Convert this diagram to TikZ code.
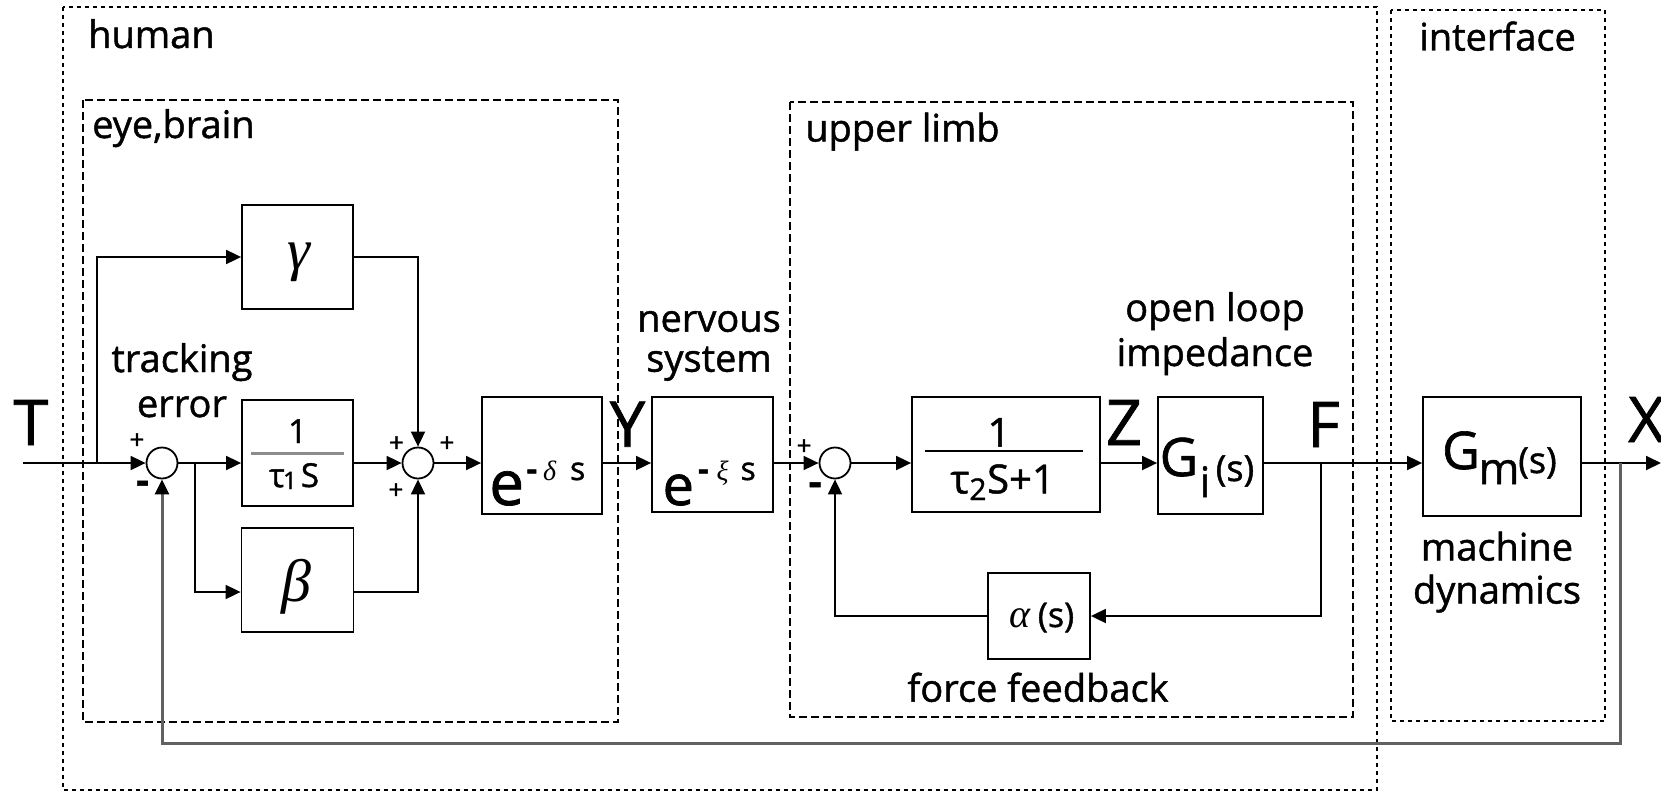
\documentclass[tikz,border=0pt]{standalone}
\usepackage{fontspec}
\setmainfont{Open Sans}[FakeBold=1.2]
\newfontfamily\grk{Liberation Serif}
\usetikzlibrary{arrows.meta,calc}
\newcommand{\myfs}[1]{\fontsize{#1}{#1}\selectfont}
\newcommand{\gk}[1]{{\grk\itshape #1}}
\begin{document}
\begin{tikzpicture}[x=1pt,y=-1pt,
  blk/.style={draw, line width=1.8pt, inner sep=0pt},
  sumj/.style={draw, circle, line width=1.8pt, inner sep=0pt, minimum size=31pt},
  arr/.style={-{Triangle[length=15pt,width=14pt]}, line width=1.8pt},
  fbk/.style={-{Triangle[length=15pt,width=14pt,color=black]}, line width=3pt, draw=black!62},
  humanbox/.style={line width=2.4pt, dash pattern=on 4pt off 4pt},
  subbox/.style={line width=1.8pt, dash pattern=on 8pt off 4pt},
  lbl/.style={inner sep=0pt, font=\myfs{38}},
  lbl2/.style={inner sep=0pt, align=center, font=\fontsize{38}{45}\selectfont, anchor=base},
  big/.style={inner sep=0pt, font=\myfs{63}, anchor=base},
  eq/.style={inner sep=0pt, anchor=base},
  sgn/.style={inner sep=0pt, font=\myfs{26}},
  mns/.style={inner sep=0pt, font=\bfseries\myfs{40}, anchor=base},
]
\useasboundingbox (0,0) rectangle (1661,792);

% containers
\draw[humanbox] (63,7) rectangle (1377,790);
\draw[humanbox] (1391,10) rectangle (1605,721);
\draw[subbox] (83,100) rectangle (618,722);
\draw[subbox] (790,102) rectangle (1353,717);

% container labels
\node[lbl, anchor=base west] (lhuman) at (88,48) {human};
\node[lbl, anchor=base west] (leye) at (92,138) {eye,brain};
\node[lbl, anchor=base west] (lupper) at (805,141.5) {upper limb};
\node[lbl, anchor=base] (linter) at (1497.5,50.5) {interface};

% blocks
\node[blk, minimum width=111pt, minimum height=104pt] (gam) at (297.5,257) {};
\node[blk, minimum width=111pt, minimum height=106pt] (tau1) at (297.5,453) {};
\node[blk, minimum width=112pt, minimum height=104pt] (beta) at (297.5,580) {};
\node[blk, minimum width=120pt, minimum height=117pt] (ed) at (542,455.5) {};
\node[blk, minimum width=121pt, minimum height=115pt] (ex) at (712.5,454.5) {};
\node[blk, minimum width=188pt, minimum height=115pt] (tau2) at (1006,454.5) {};
\node[blk, minimum width=105pt, minimum height=117pt] (gi) at (1210.5,455.5) {};
\node[blk, minimum width=158pt, minimum height=119pt] (gm) at (1502,456.5) {};
\node[blk, minimum width=102pt, minimum height=86pt] (alpha) at (1039,616) {};

% summing junctions
\node[sumj] (s1) at (162,463) {};
\node[sumj] (s2) at (418,463) {};
\node[sumj] (s3) at (835,463) {};

% block contents
\node[inner sep=0pt, anchor=base, font=\grk\itshape\myfs{58}] (tgam) at (299,269) {γ};
\node[inner sep=0pt, anchor=base, font=\grk\itshape\myfs{60}] (tbeta) at (296,601) {β};
\node[eq, font=\myfs{33}] (t1num) at (297.5,443) {1};
\node[eq, font=\myfs{33}] (t1den) at (277,487) {τ};
\node[eq, font=\myfs{24}] (t1sub) at (290,489) {1};
\node[eq, font=\myfs{33}] (t1s) at (310,487) {S};
\draw[line width=3pt, black!45] ($(tau1.center)+(-46.5,0)$) -- ($(tau1.center)+(46.5,0)$);
\node[eq, font=\myfs{40}] (t2num) at (999,446.7) {1};
\node[eq, font=\myfs{40}] (t2den) at (960,493.3) {τ};
\node[eq, font=\myfs{30}] (t2sub) at (978,500) {2};
\node[eq, font=\myfs{40}] (t2s) at (1021,493.3) {S+1};
\draw[line width=1.8pt] ($(tau2.center)+(-81,-3.5)$) -- ($(tau2.center)+(77,-3.5)$);
\node[eq, font=\myfs{62}] (ted) at (506.7,505) {e};
\node[eq, font=\myfs{32}] (tedsup) at (556,480) {\textbf{-}\hspace{6pt}\gk{\myfs{28}δ}\hspace{14pt}s};
\node[eq, font=\myfs{56}] (tex) at (678.3,505) {e};
\node[eq, font=\myfs{32}] (texsup) at (727,480) {\textbf{-}\hspace{8pt}\gk{\myfs{28}ξ}\hspace{12pt}s};
\node[eq, font=\myfs{53}] (tgi) at (1179,476) {G};
\node[eq, font=\myfs{42}] (tgisub) at (1205,497) {i};
\node[eq, font=\myfs{36}] (tgis) at (1235,481) {(s)};
\node[eq, font=\myfs{52}] (tgm) at (1461,469) {G};
\node[eq, font=\myfs{44}] (tgmsub) at (1499,484) {m};
\node[eq, font=\myfs{36}] (tgms) at (1537.5,473) {(s)};
\node[eq] (talpha) at (1042,627) {\gk{\myfs{40}α}\hspace{7pt}{\myfs{34}(s)}};

% signal labels
\node[big] (lT) at (31,445) {T};
\node[big] (lY) at (627.5,446.7) {Y};
\node[big] (lZ) at (1124,445) {Z};
\node[big] (lF) at (1323.5,447) {F};
\node[big, anchor=base west] (lX) at (1628,442) {X};

% descriptive labels (base = last line)
\node[lbl2] (ltrack) at (182,417) {tracking\\error};
\node[lbl2, font=\fontsize{38}{40}\selectfont] (lnerv) at (709,371.7) {nervous\\system};
\node[lbl2] (lopen) at (1215,366) {open loop\\impedance};
\node[lbl2, font=\fontsize{38}{43}\selectfont] (lmach) at (1497,603.5) {machine\\dynamics};
\node[lbl, anchor=base] (lforce) at (1038,701.7) {force feedback};

% signs
\node[sgn] (p1) at (137,441) {+};
\node[mns] (m1) at (142.5,494) {-};
\node[sgn] (p2a) at (396.5,444) {+};
\node[sgn] (p2b) at (396,491) {+};
\node[sgn] (p2c) at (447,444) {+};
\node[sgn] (p3) at (804,447) {+};
\node[mns] (m3) at (815,495.5) {-};

% connector points
\coordinate (tin) at (23,463);
\coordinate (br1) at (97,463);
\coordinate (br2) at (195,463);
\coordinate (bl) at (195,592);
\coordinate (brF) at (1321,463);
\coordinate (fbot) at (1321,616);
\coordinate (fbX) at (1620,463);
\coordinate (fbB) at (1620,743);
\coordinate (xout) at (1661,463);

% connectors
\draw[arr] (tin) -- (s1.west);
\draw[arr] (br1) |- (gam.west);
\draw[arr] (gam.east) -| (s2.north);
\draw[arr] (s1.east) -- (s1.east -| tau1.west);
\draw[arr] (tau1.east |- s2.west) -- (s2.west);
\draw[arr] (br2) -- (bl) -- (bl -| beta.west);
\draw[arr] (bl -| beta.east) -| (s2.south);
\draw[arr] (s2.east) -- (s2.east -| ed.west);
\draw[arr] (ed.east |- s2.east) -- (ex.west |- s2.east);
\draw[arr] (ex.east |- s3.west) -- (s3.west);
\draw[arr] (s3.east) -- (s3.east -| tau2.west);
\draw[arr] (tau2.east |- s3.east) -- (gi.west |- s3.east);
\draw[arr] (gi.east |- s3.east) -- (gm.west |- s3.east);
\draw[arr] (gm.east |- s3.east) -- (xout);
\draw[arr] (brF) -- (fbot) -- (alpha.east);
\draw[arr] (alpha.west) -| (s3.south);
\draw[fbk] (fbX) -- (fbB) -| (s1.south);
\end{tikzpicture}
\end{document}
